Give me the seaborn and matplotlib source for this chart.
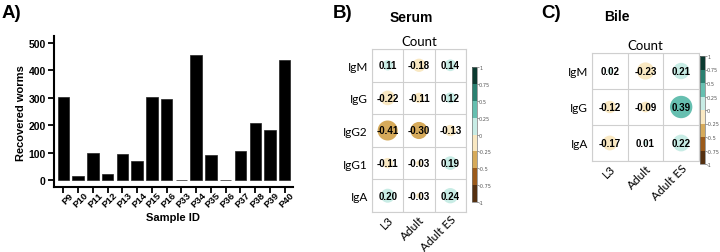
import numpy as np
import pandas as pd
import matplotlib
matplotlib.use("Agg")
import matplotlib.pyplot as plt
import matplotlib.colors as mcolors
import matplotlib.cm as cm
from matplotlib.transforms import ScaledTranslation
import seaborn as sns

# ---- data ----
samples = ["P9", "P10", "P11", "P12", "P13", "P14", "P15", "P16",
           "P33", "P34", "P35", "P36", "P37", "P38", "P39", "P40"]
worms = [301, 14, 98, 24, 96, 71, 304, 294, 2, 456, 93, 2, 106, 207, 184, 436]

antigens = ["L3", "Adult", "Adult ES"]

serum_rows = ["IgM", "IgG", "IgG2", "IgG1", "IgA"]
serum_vals = [[0.11, -0.18, 0.14],
              [-0.22, -0.11, 0.12],
              [-0.41, -0.30, -0.13],
              [-0.11, -0.03, 0.19],
              [0.20, -0.03, 0.24]]

bile_rows = ["IgM", "IgG", "IgA"]
bile_vals = [[0.02, -0.23, 0.21],
             [-0.12, -0.09, 0.39],
             [-0.17, 0.01, 0.22]]

cbar_ticks = [-1, -0.75, -0.5, -0.25, 0, 0.25, 0.5, 0.75, 1]
cbar_labels = ["-1", "-0.75", "-0.5", "-0.25", "0", "0.25", "0.5", "0.75", "1"]

brbg8 = mcolors.ListedColormap(["#553010", "#9b5a1a", "#d6aa5a", "#f9e8c2",
                                "#c8ece5", "#66bfb0", "#2a8070", "#0b3a30"])

W, H = 720, 253
fig = plt.figure(figsize=(7.2, 2.53), dpi=100)


def box(left, top, right, bottom):
    return [left / W, 1 - bottom / H, (right - left) / W, (bottom - top) / H]


def shift_labels(labels, dx_px, dy_px=0):
    off = ScaledTranslation(dx_px / 100, -dy_px / 100, fig.dpi_scale_trans)
    for lab in labels:
        lab.set_transform(lab.get_transform() + off)


arial = ["Liberation Sans", "DejaVu Sans"]
lato = ["Lato", "DejaVu Sans"]

# ---- panel A: bar chart ----
ax = fig.add_axes(box(54, 37, 293, 188))
sns.barplot(x=samples, y=worms, color="black", width=0.77, edgecolor="#222222",
            linewidth=0.5, ax=ax)
ax.set_xlim(-0.63, 15.56)
ax.set_ylim(-25, 525)
ax.set_yticks([0, 100, 200, 300, 400, 500])
sns.despine(ax=ax)
for s in ["left", "bottom"]:
    ax.spines[s].set_linewidth(1.5)
ax.tick_params(length=4, width=1.3, pad=2)
ax.set_xticks(range(len(samples)))
ax.set_xticklabels(samples, rotation=45, ha="right", rotation_mode="anchor",
                   fontsize=6.8, fontweight="bold", family=arial)
shift_labels(ax.get_xticklabels(), 5, -5)
for lab in ax.get_yticklabels():
    lab.set_fontsize(7.5)
    lab.set_fontweight("bold")
    lab.set_family(arial)
ax.set_xlabel("Sample ID", fontsize=8, fontweight="bold", family=arial, va="center")
ax.set_ylabel("Recovered worms", fontsize=8, fontweight="bold", family=arial, va="center")
ax.xaxis.set_label_coords((173 - 54) / 239, (188 - 218) / 151)
ax.yaxis.set_label_coords((21 - 54) / 239, (188 - 113) / 151)
fig.text(2 / W, 1 - 13 / H, "A)", fontsize=13.5, fontweight="bold", family=arial, va="center")


# ---- correlation panels ----
def corr_panel(ax, cax, rows, vals, cell_pt):
    df = pd.DataFrame(vals, index=rows, columns=antigens)
    long = df.reset_index().melt(id_vars="index", var_name="antigen", value_name="r")
    long = long.rename(columns={"index": "ig"})
    long["absr"] = long["r"].abs()
    sns.scatterplot(data=long, x="antigen", y="ig", hue="r", palette=brbg8,
                    hue_norm=(-1, 1), size="absr", sizes=(0, cell_pt ** 2),
                    size_norm=(0, 1), linewidth=0, legend=False, ax=ax, zorder=3)
    n = len(rows)
    ax.set_xlim(-0.5, 2.5)
    ax.set_ylim(n - 0.5, -0.5)
    ax.set_xticks(np.arange(-0.5, 3), minor=True)
    ax.set_yticks(np.arange(-0.5, n), minor=True)
    ax.grid(which="minor", color="#cfcfcf", linewidth=0.8)
    ax.grid(which="major", visible=False)
    ax.tick_params(which="both", length=0)
    for s in ax.spines.values():
        s.set_color("#cfcfcf")
        s.set_linewidth(0.8)
    ax.set_xticks(range(3))
    ax.set_xticklabels(antigens, rotation=45, ha="right", rotation_mode="anchor",
                       fontsize=8.6, family=lato)
    shift_labels(ax.get_xticklabels(), 7, -2)
    ax.set_yticks(range(n))
    ax.set_yticklabels(rows, fontsize=8.5, family=lato)
    ax.tick_params(axis="x", pad=1)
    ax.tick_params(axis="y", pad=3)
    ax.set_xlabel("")
    ax.set_ylabel("")
    ax.set_title("Count", fontsize=9.5, family=lato, pad=3)
    for i in range(n):
        for j in range(3):
            ax.text(j, i, f"{vals[i][j]:.2f}", ha="center", va="center",
                    fontsize=7, fontweight="bold", family=arial, zorder=4)
    sm = cm.ScalarMappable(norm=mcolors.Normalize(-1, 1), cmap=brbg8)
    cb = fig.colorbar(sm, cax=cax, ticks=cbar_ticks)
    cb.ax.set_yticklabels(cbar_labels)
    cb.ax.tick_params(labelsize=3.6, labelcolor="#555555", length=1.5, width=0.5,
                      color="#777777", pad=0)
    cb.outline.set_linewidth(0.5)
    cb.outline.set_edgecolor("#777777")


axb = fig.add_axes(box(372, 50, 466, 213))
caxb = fig.add_axes(box(472, 68, 477, 203))
corr_panel(axb, caxb, serum_rows, serum_vals, 22.5)
fig.text(411 / W, 1 - 18 / H, "Serum", fontsize=10, fontweight="bold", family=arial,
         ha="center", va="center")
fig.text(333 / W, 1 - 14 / H, "B)", fontsize=13.5, fontweight="bold", family=arial, va="center")

axc = fig.add_axes(box(592, 54, 699, 162))
caxc = fig.add_axes(box(700, 57, 705, 165))
corr_panel(axc, caxc, bile_rows, bile_vals, 25.8)
fig.text(617 / W, 1 - 17 / H, "Bile", fontsize=10, fontweight="bold", family=arial,
         ha="center", va="center")
fig.text(541 / W, 1 - 14 / H, "C)", fontsize=13.5, fontweight="bold", family=arial, va="center")

fig.savefig("out.png", dpi=100)
